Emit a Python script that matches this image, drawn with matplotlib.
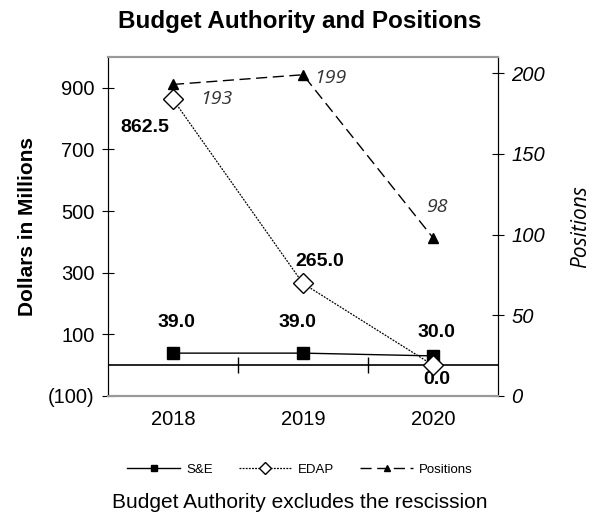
import matplotlib.pyplot as plt
from matplotlib.ticker import FuncFormatter

plt.rcParams['font.family'] = ['Liberation Sans', 'DejaVu Sans']

# data
years = ["2018", "2019", "2020"]
se = [39.0, 39.0, 30.0]
edap = [862.5, 265.0, 0.0]
positions = [193, 199, 98]

x = [1, 2, 3]

fig = plt.figure(figsize=(6, 5.21), dpi=100)
ax = fig.add_axes([0.18, 0.24, 0.65, 0.6506])
ax2 = ax.twinx()

# budget lines (left axis)
ax.plot(x, se, color='black', lw=1, marker='s', ms=8, label='S&E', zorder=3)
ax.plot(x, edap, color='black', lw=0.9, ls=(0, (1.5, 1)), marker='D', ms=10,
        mfc='white', mec='black', mew=1, label='EDAP', zorder=4)

# zero line with category ticks
ax.axhline(0, color='black', lw=1.2, zorder=2)
ax.plot([1.5, 2.5], [0, 0], ls='none', marker='|', ms=11, mew=1, color='black')

# positions (right axis)
ax2.plot(x, positions, color='black', lw=1, ls=(0, (8, 4)), marker='^', ms=7,
         label='Positions')

ax.set_xlim(0.5, 3.5)
ax.set_ylim(-100, 1000)
ax2.set_ylim(0, 210)

ax.set_yticks([-100, 100, 300, 500, 700, 900])
ax.yaxis.set_major_formatter(FuncFormatter(lambda v, p: "(%d)" % -v if v < 0 else "%d" % v))
ax2.set_yticks([0, 50, 100, 150, 200])

ax.set_xticks(x)
ax.set_xticklabels(years, fontsize=14.5)
ax.tick_params(axis='x', length=0, pad=10)
ax.tick_params(axis='y', direction='inout', length=9, labelsize=14.5, pad=5)
ax2.tick_params(axis='y', direction='inout', length=9, labelsize=14.5, pad=5)
for lab in ax2.get_yticklabels():
    lab.set_style('italic')

for a in (ax, ax2):
    a.spines['top'].set_color('#999999')
    a.spines['bottom'].set_color('#999999')
    a.spines['top'].set_linewidth(1.5)
    a.spines['bottom'].set_linewidth(1.5)

# value labels
lab_font = dict(fontsize=14, fontweight='bold', ha='center', va='center')
ax.text(1.03, 137, "%.1f" % se[0], **lab_font)
ax.text(1.96, 137, "%.1f" % se[1], **lab_font)
ax.text(3.03, 105, "%.1f" % se[2], **lab_font)
ax.text(0.78, 770, "%.1f" % edap[0], **lab_font)
ax.text(2.13, 337, "%.1f" % edap[1], **lab_font)
ax.text(3.03, -45, "%.1f" % edap[2], **lab_font)

pos_font = dict(fontsize=14, style='italic', color='#333333', family='Open Sans',
                ha='center', va='center')
ax2.text(1.33, 184, str(positions[0]), **pos_font)
ax2.text(2.21, 197, str(positions[1]), **pos_font)
ax2.text(3.03, 117, str(positions[2]), **pos_font)

ax.set_ylabel("Dollars in Millions", fontsize=15, fontweight='bold', labelpad=8)
ax2.set_ylabel("Positions", fontsize=15, style='italic', family='Open Sans', labelpad=18)

fig.text(0.5, 0.958, "Budget Authority and Positions", fontsize=17.5, fontweight='bold',
         ha='center', va='center')

h1, l1 = ax.get_legend_handles_labels()
h2, l2 = ax2.get_legend_handles_labels()
fig.legend(h1 + h2, l1 + l2, loc='center', bbox_to_anchor=(0.5, 0.098), ncol=3,
           frameon=False, fontsize=9.5, handlelength=4.0, columnspacing=2.0,
           markerscale=0.6, handletextpad=0.45)

fig.text(0.5, 0.035, "Budget Authority excludes the rescission", ha='center', va='center', fontsize=15)

fig.savefig("out.png", dpi=100)
